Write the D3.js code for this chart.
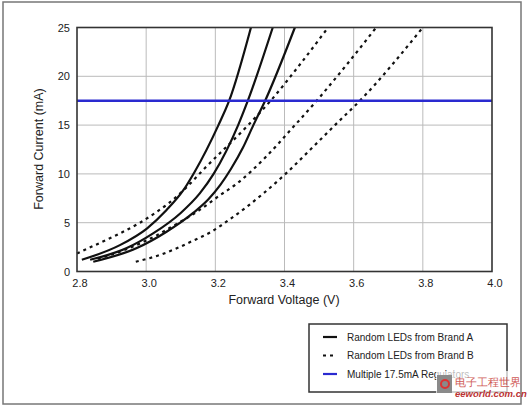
<!DOCTYPE html>
<html>
<head>
<meta charset="UTF-8">
<script src="https://cdn.jsdelivr.net/npm/d3@7"></script>
<style>
  body { margin: 0; background: #fff; }
  text { font-family: "Liberation Sans", Arial, sans-serif; fill: #222; }
</style>
</head>
<body>
<svg width="528" height="410"></svg>
<script>
// axis ticks
var xTicks = [2.8, 3.0, 3.2, 3.4, 3.6, 3.8, 4.0];
var yTicks = [0, 5, 10, 15, 20, 25];

// Brand A (solid) curves: [voltage, current mA]
var brandA1 = [[2.814,1.2],[2.924,2.7],[3.002,4.4],[3.059,6.3],[3.107,8.3],[3.14,10.2],[3.209,15.0],[3.240,17.5],[3.303,25]];
var brandA2 = [[2.838,1.2],[2.944,2.4],[3.02,3.9],[3.1,6.0],[3.155,8.0],[3.195,10.0],[3.266,15.0],[3.294,17.5],[3.366,25]];
var brandA3 = [[2.847,1.0],[2.973,2.4],[3.059,4.07],[3.136,6.0],[3.18,7.4],[3.215,8.9],[3.245,10.5],[3.28,12.7],[3.31,15.0],[3.344,17.5],[3.430,25]];

// Brand B (dashed) curves
var brandB1 = [[2.8,1.85],[2.852,2.7],[2.924,3.9],[2.982,5.0],[3.026,6.0],[3.069,7.1],[3.11,8.4],[3.17,10.6],[3.295,15.0],[3.36,17.5],[3.44,21.0],[3.526,25]];
var brandB2 = [[2.86,1.3],[2.93,2.1],[2.99,3.0],[3.03,3.7],[3.075,4.6],[3.15,6.2],[3.213,7.8],[3.262,9.0],[3.345,11.7],[3.42,14.6],[3.493,17.5],[3.58,21.2],[3.665,25]];
var brandB3 = [[2.97,1.0],[3.04,1.7],[3.09,2.4],[3.132,3.1],[3.19,4.1],[3.24,5.3],[3.29,6.6],[3.339,8.0],[3.403,10.0],[3.475,12.5],[3.546,15.0],[3.618,17.5],[3.8,25]];

var regulatorCurrent = 17.5;

var legendLabels = ["Random LEDs from Brand A", "Random LEDs from Brand B", "Multiple 17.5mA Regulators"];

var svg = d3.select("svg");

// outer frame
svg.append("rect")
  .attr("x", 3).attr("y", 2).attr("width", 518).attr("height", 402)
  .attr("fill", "none").attr("stroke", "#777").attr("stroke-width", 1.5);

var x = d3.scaleLinear().domain([2.8, 4.0]).range([77, 492]);
var y = d3.scaleLinear().domain([0, 25]).range([271.5, 27.5]);

// grid
svg.append("g").selectAll("line").data(xTicks.slice(1, -1)).enter().append("line")
  .attr("x1", function(d) { return x(d); }).attr("x2", function(d) { return x(d); })
  .attr("y1", y(0)).attr("y2", y(25))
  .attr("stroke", "#bbb").attr("stroke-width", 1);
svg.append("g").selectAll("line").data(yTicks.slice(1, -1)).enter().append("line")
  .attr("y1", function(d) { return y(d); }).attr("y2", function(d) { return y(d); })
  .attr("x1", x(2.8)).attr("x2", x(4.0))
  .attr("stroke", "#bbb").attr("stroke-width", 1);

// tick labels
svg.append("g").selectAll("text").data(xTicks).enter().append("text")
  .attr("x", function(d) { return x(d) + 3; })
  .attr("y", 287)
  .attr("text-anchor", "middle")
  .attr("font-size", 11)
  .text(function(d) { return d.toFixed(1); });
svg.append("g").selectAll("text").data(yTicks).enter().append("text")
  .attr("x", 70)
  .attr("y", function(d) { return y(d) + 4; })
  .attr("text-anchor", "end")
  .attr("font-size", 11)
  .text(function(d) { return d; });

// axis titles
svg.append("text")
  .attr("x", 284).attr("y", 304)
  .attr("text-anchor", "middle").attr("font-size", 12.5)
  .text("Forward Voltage (V)");
svg.append("text")
  .attr("transform", "translate(43,149) rotate(-90)")
  .attr("text-anchor", "middle").attr("font-size", 12.5)
  .text("Forward Current (mA)");

// curves
var line = d3.line()
  .x(function(d) { return x(d[0]); })
  .y(function(d) { return y(d[1]); })
  .curve(d3.curveMonotoneX);

var plot = svg.append("g");
[brandB1, brandB2, brandB3].forEach(function(s) {
  plot.append("path").attr("d", line(s))
    .attr("fill", "none").attr("stroke", "#111")
    .attr("stroke-width", 2.2).attr("stroke-dasharray", "3,4");
});
[brandA1, brandA2, brandA3].forEach(function(s) {
  plot.append("path").attr("d", line(s))
    .attr("fill", "none").attr("stroke", "#111")
    .attr("stroke-width", 2.2);
});

// regulator line
svg.append("line")
  .attr("x1", x(2.8)).attr("x2", x(4.0))
  .attr("y1", y(regulatorCurrent)).attr("y2", y(regulatorCurrent))
  .attr("stroke", "#2a2ad0").attr("stroke-width", 2.5);

// plot border
svg.append("rect")
  .attr("x", x(2.8)).attr("y", y(25))
  .attr("width", x(4.0) - x(2.8)).attr("height", y(0) - y(25))
  .attr("fill", "none").attr("stroke", "#333").attr("stroke-width", 1.6);

// legend
var lg = svg.append("g");
lg.append("rect")
  .attr("x", 309).attr("y", 324).attr("width", 198).attr("height", 68)
  .attr("fill", "#fff").attr("stroke", "#333").attr("stroke-width", 1.5);
var legendStyles = [
  { stroke: "#111", dash: null },
  { stroke: "#111", dash: "3,4" },
  { stroke: "#2a2ad0", dash: null }
];
legendLabels.forEach(function(t, i) {
  var ly = 337 + i * 18.5;
  lg.append("line")
    .attr("x1", 323).attr("x2", 337).attr("y1", ly).attr("y2", ly)
    .attr("stroke", legendStyles[i].stroke).attr("stroke-width", 2.2)
    .attr("stroke-dasharray", legendStyles[i].dash);
  lg.append("text")
    .attr("x", 347).attr("y", ly + 3.5)
    .attr("font-size", 10)
    .text(t);
});

// watermark
var wm = svg.append("g");
wm.append("rect")
  .attr("x", 436).attr("y", 371).attr("width", 84).attr("height", 32)
  .attr("fill", "#fff").attr("opacity", 0.7);
wm.append("rect")
  .attr("x", 437).attr("y", 375).attr("width", 15).attr("height", 18)
  .attr("fill", "#8a8a8a");
wm.append("circle")
  .attr("cx", 445).attr("cy", 384).attr("r", 4)
  .attr("fill", "none").attr("stroke", "#d33").attr("stroke-width", 2);
wm.append("text")
  .attr("x", 455).attr("y", 386)
  .attr("font-family", "Noto Sans CJK SC").attr("font-size", 10.5)
  .style("fill", "#c9403a").attr("opacity", 0.85)
  .text("电子工程世界");
wm.append("text")
  .attr("x", 455).attr("y", 397)
  .attr("font-size", 9.5).attr("font-style", "italic").attr("font-weight", "bold")
  .style("fill", "#b33")
  .text("eeworld.com.cn");
</script>
</body>
</html>
